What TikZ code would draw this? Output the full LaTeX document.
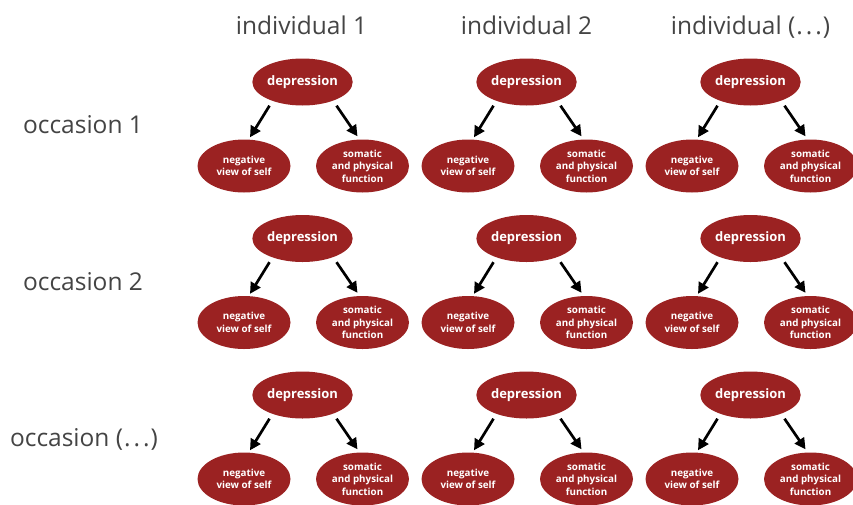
\documentclass[tikz,border=0pt]{standalone}
\usepackage{fontspec}
\setmainfont{Open Sans}
\usetikzlibrary{shapes.geometric,arrows.meta,calc}
\definecolor{ellred}{RGB}{155,34,34}
\definecolor{labgray}{RGB}{68,68,68}
\newcommand{\mydots}{(\kern1pt.\kern3pt.\kern3pt.\kern1pt)}
\tikzset{
  depnode/.style={ellipse, fill=ellred, draw=none, minimum width=93pt, minimum height=47pt, inner sep=0pt,
     text=white, font=\fontsize{13}{14}\selectfont\bfseries},
  leafnode/.style={ellipse, fill=ellred, draw=none, minimum width=93pt, minimum height=53pt, inner sep=0pt,
     text=white, align=center, font=\fontsize{9.8}{12.6}\selectfont\bfseries},
  headlab/.style={anchor=base, text=labgray, font=\fontsize{24.5}{28}\selectfont},
  arr/.style={line width=2.7pt, -{Triangle[length=11pt,width=11pt]}},
}
\begin{document}
\begin{tikzpicture}[x=1pt,y=-1pt]
\useasboundingbox (0,0) rectangle (853,504);
% column headers
\node[headlab] (h1) at (301.5,34) {individual 1};
\node[headlab] (h2) at (526.5,34) {individual 2};
\node[headlab] (h3) at (750.5,34) {individual \mydots};
% row labels
\node[headlab] (r1) at (83,133.5) {occasion 1};
\node[headlab] (r2) at (83,290) {occasion 2};
\node[headlab] (r3) at (84,446.5) {occasion \mydots};
\foreach \cx [count=\i] in {302.5,526.5,750.5}{
  \foreach \ry [count=\j] in {82,238.5,395}{
    \node[depnode] (d\i\j) at (\cx,\ry) {depression};
    \node[leafnode] (n\i\j) at (\cx-58.5,\ry+84) {negative\\view of self};
    \node[leafnode] (s\i\j) at (\cx+60,\ry+84) {somatic\\and physical\\function};
    \draw[arr] ($(d\i\j.south)+(-33,0)$) -- ($(n\i\j.north)+(6,-2)$);
    \draw[arr] ($(d\i\j.south)+(34,0)$) -- ($(s\i\j.north)+(-5,-3)$);
  }
}
\end{tikzpicture}
\end{document}
